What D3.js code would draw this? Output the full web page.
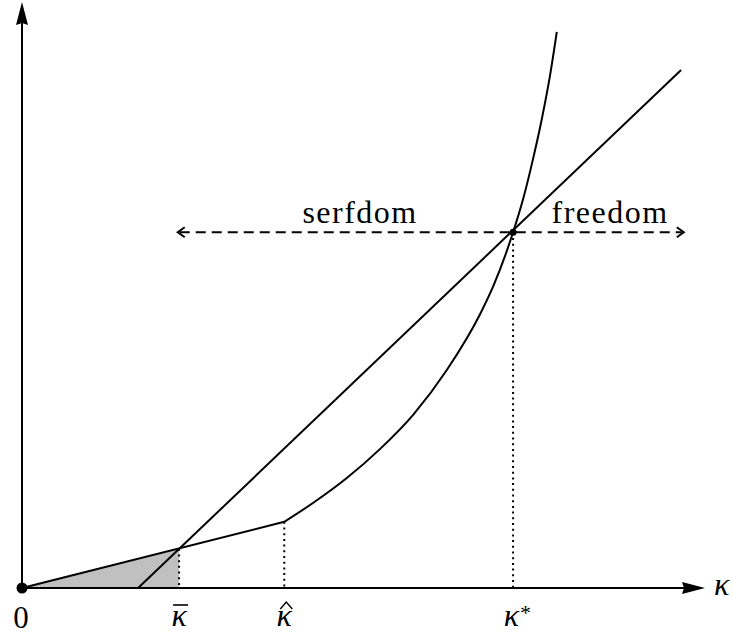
<!DOCTYPE html>
<html>
<head>
<meta charset="utf-8">
<script src="https://cdn.jsdelivr.net/npm/d3@7"></script>
<style>
  svg text { font-family: "Liberation Serif", "Times New Roman", serif !important; }
</style>
</head>
<body style="margin:0">
<div id="chart"></div>
<script>
// values (x: capital kappa, y: arbitrary units)
const tickValues = [0, 2.30, 3.84, 7.19];
const tickLabels = ["0", "κ", "κ", "κ"];
const tickMarks = ["", "bar", "hat", "star"];

// straight line (starts on the axis to the right of 0)
const linePoints = [[1.70, 0], [9.65, 8.84]];
// kinked curve: linear part, then convex part
const linearPart = [[0, 0], [3.84, 1.13]];
const convexPart = [
  [3.84, 1.13], [4.26, 1.45], [4.76, 1.88], [5.24, 2.37], [5.73, 2.96],
  [6.22, 3.72], [6.71, 4.68], [6.90, 5.15], [7.19, 6.07], [7.34, 6.65],
  [7.48, 7.31], [7.61, 8.00], [7.73, 8.74], [7.83, 9.49]
];
// shaded area below the curve up to kappa bar
const shadePoints = [[0, 0], [2.30, 0.67], [2.30, 0]];
// dotted drop lines [x, top]
const dropLines = [[2.30, 0.67], [3.84, 1.13], [7.19, 6.07]];
// regime arrow
const regimeY = 6.07;
const regimeRange = [2.28, 9.69];
const regimeLabels = ["serfdom", "freedom"];
const regimeLabelX = [4.95, 8.61];

const width = 733, height = 634;
const x = d3.scaleLinear().domain([0, 10]).range([22, 705]);
const y = d3.scaleLinear().domain([0, 10]).range([588, 2]);

const svg = d3.select("#chart").append("svg")
  .attr("width", width)
  .attr("height", height);

const line = d3.line().x(d => x(d[0])).y(d => y(d[1]));

// shaded triangle
svg.append("path")
  .attr("d", line(shadePoints) + "Z")
  .attr("fill", "#c0c0c0");

// dotted verticals
svg.selectAll(".drop")
  .data(dropLines)
  .enter()
  .append("line")
  .attr("x1", d => x(d[0]))
  .attr("x2", d => x(d[0]))
  .attr("y1", d => y(d[1]))
  .attr("y2", y(0))
  .attr("stroke", "#000")
  .attr("stroke-width", 2)
  .attr("stroke-dasharray", "2,3.7");

// axes
svg.append("line")
  .attr("x1", x(0)).attr("x2", 686)
  .attr("y1", y(0)).attr("y2", y(0))
  .attr("stroke", "#000").attr("stroke-width", 2);
svg.append("path")
  .attr("d", `M705,${y(0)} L682,${y(0) - 6} L684,${y(0)} L682,${y(0) + 6} Z`)
  .attr("fill", "#000");

svg.append("line")
  .attr("x1", x(0)).attr("x2", x(0))
  .attr("y1", y(0)).attr("y2", 22)
  .attr("stroke", "#000").attr("stroke-width", 2);
svg.append("path")
  .attr("d", `M${x(0)},2 L${x(0) - 6},25 L${x(0)},23 L${x(0) + 6},25 Z`)
  .attr("fill", "#000");

// curves
const curve = d3.line().x(d => x(d[0])).y(d => y(d[1])).curve(d3.curveMonotoneX);
svg.append("path")
  .attr("d", line(linearPart))
  .attr("fill", "none").attr("stroke", "#000").attr("stroke-width", 2);
svg.append("path")
  .attr("d", curve(convexPart))
  .attr("fill", "none").attr("stroke", "#000").attr("stroke-width", 2);
svg.append("path")
  .attr("d", line(linePoints))
  .attr("fill", "none").attr("stroke", "#000").attr("stroke-width", 2);

// regime dashed double arrow
const ry = y(regimeY);
const rx0 = x(regimeRange[0]), rx1 = x(regimeRange[1]);
svg.append("line")
  .attr("x1", rx0 + 2).attr("x2", rx1 - 2)
  .attr("y1", ry).attr("y2", ry)
  .attr("stroke", "#000").attr("stroke-width", 2)
  .attr("stroke-dasharray", "10,6");
svg.append("path")
  .attr("d", `M${rx0 + 7},${ry - 5} L${rx0},${ry} L${rx0 + 7},${ry + 5}`)
  .attr("fill", "none").attr("stroke", "#000").attr("stroke-width", 2);
svg.append("path")
  .attr("d", `M${rx1 - 7},${ry - 5} L${rx1},${ry} L${rx1 - 7},${ry + 5}`)
  .attr("fill", "none").attr("stroke", "#000").attr("stroke-width", 2);

svg.selectAll(".regime")
  .data(regimeLabels)
  .enter()
  .append("text")
  .attr("x", (d, i) => x(regimeLabelX[i]))
  .attr("y", ry - 9)
  .attr("text-anchor", "middle")
  .style("font-size", "32px")
  .style("letter-spacing", "1.5px")
  .text(d => d);

// dots
svg.append("circle").attr("cx", x(0)).attr("cy", y(0)).attr("r", 5.5).attr("fill", "#000");
svg.append("circle").attr("cx", x(tickValues[3])).attr("cy", ry).attr("r", 3.5).attr("fill", "#000");

// tick labels
const ticks = svg.selectAll(".tick")
  .data(tickValues)
  .enter()
  .append("g")
  .attr("transform", d => `translate(${x(d)},0)`);

ticks.append("text")
  .attr("y", (d, i) => i === 0 ? 628 : 626)
  .attr("text-anchor", (d, i) => tickMarks[i] === "star" ? "end" : "middle")
  .attr("dx", (d, i) => i === 0 ? -1 : tickMarks[i] === "star" ? 6 : 0)
  .style("font-size", (d, i) => i === 0 ? "31px" : "32px")
  .style("font-style", (d, i) => i === 0 ? "normal" : "italic")
  .text((d, i) => tickLabels[i]);

ticks.filter((d, i) => tickMarks[i] === "bar")
  .append("line")
  .attr("x1", -6).attr("x2", 9)
  .attr("y1", 605).attr("y2", 605)
  .attr("stroke", "#000").attr("stroke-width", 1.6);

ticks.filter((d, i) => tickMarks[i] === "hat")
  .append("path")
  .attr("d", "M-4,609 L2,602 L8,609")
  .attr("fill", "none").attr("stroke", "#000").attr("stroke-width", 1.4);

ticks.filter((d, i) => tickMarks[i] === "star")
  .append("text")
  .attr("x", 7)
  .attr("y", 620)
  .style("font-size", "22px")
  .text("*");

// axis name
svg.append("text")
  .attr("x", 714)
  .attr("y", 595)
  .style("font-size", "32px")
  .style("font-style", "italic")
  .text("κ");
</script>
</body>
</html>
